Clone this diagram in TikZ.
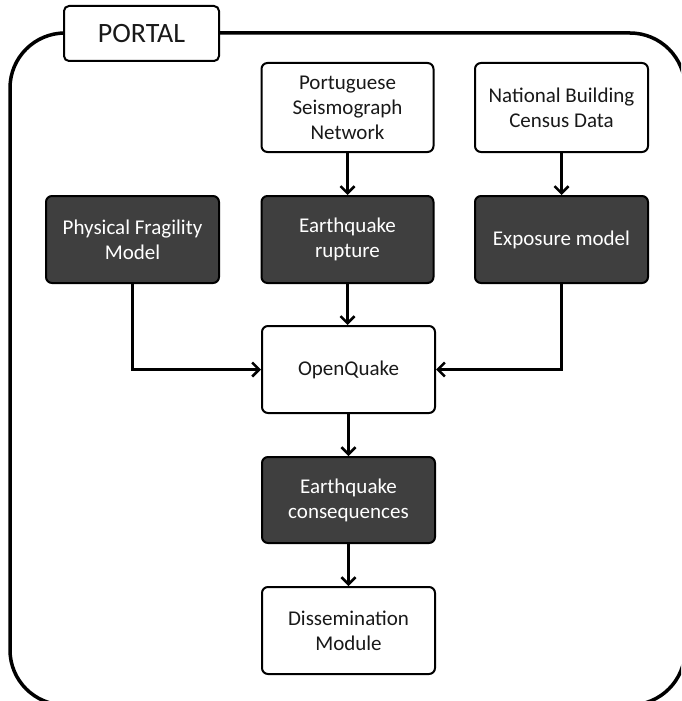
\documentclass[tikz,border=0pt]{standalone}
\usepackage{fontspec}
\setmainfont{Carlito}
\usetikzlibrary{arrows.meta}
\definecolor{darkbox}{HTML}{3F3F3F}
\tikzset{
  base/.style={draw=black, line width=2pt, rounded corners=6pt, align=center,
    minimum width=173pt, minimum height=87pt, inner sep=2pt,
    font=\fontsize{21}{25}\selectfont},
  lightbox/.style={base, fill=white, text=black!90},
  darkbx/.style={base, fill=darkbox, text=white},
  conn/.style={line width=2.5pt, -{Straight Barb[length=7pt,width=14pt,line width=2.5pt]}},
}
\begin{document}
\begin{tikzpicture}[x=1pt,y=-1pt]
\useasboundingbox (0,0) rectangle (681,701);
\clip (0,0) rectangle (681,701);
\fill[white] (0,0) rectangle (681,701);
% outer frame
\draw[line width=3.5pt, rounded corners=55pt] (10,33) rectangle (685,705);
% portal label
\node[draw=black, line width=2pt, rounded corners=5pt, fill=white,
  minimum width=155pt, minimum height=55pt, font=\fontsize{28}{30}\selectfont,
  text=black!90] (portal) at (141.5,33.5) {PORTAL};
% nodes
\node[lightbox, minimum width=172pt, minimum height=89pt] (psn) at (347.5,107.5) {Portuguese\\Seismograph\\Network};
\node[lightbox, minimum height=89pt] (nbc) at (561.5,107.5) {National Building\\Census Data};
\node[darkbx] (pfm) at (132.5,239.5) {Physical Fragility\\Model};
\node[darkbx, minimum width=172pt] (eqr) at (347.5,239.5) {Earthquake\\rupture};
\node[darkbx] (exp) at (561.5,239.5) {Exposure model};
\node[lightbox] (oq) at (348.5,369.5) {OpenQuake};
\node[darkbx, minimum height=86pt] (eqc) at (348.5,500) {Earthquake\\consequences};
\node[lightbox] (dis) at (348.5,630.5) {Dissemination\\Module};
% connectors
\draw[conn] (psn.south) -- (eqr.north);
\draw[conn] (nbc.south) -- (exp.north);
\draw[conn] (eqr.south) -- (eqr.south |- oq.north);
\draw[conn] (pfm.south) |- (oq.west);
\draw[conn] (exp.south) |- (oq.east);
\draw[conn] (oq.south) -- (eqc.north);
\draw[conn] (eqc.south) -- (dis.north);
\end{tikzpicture}
\end{document}
